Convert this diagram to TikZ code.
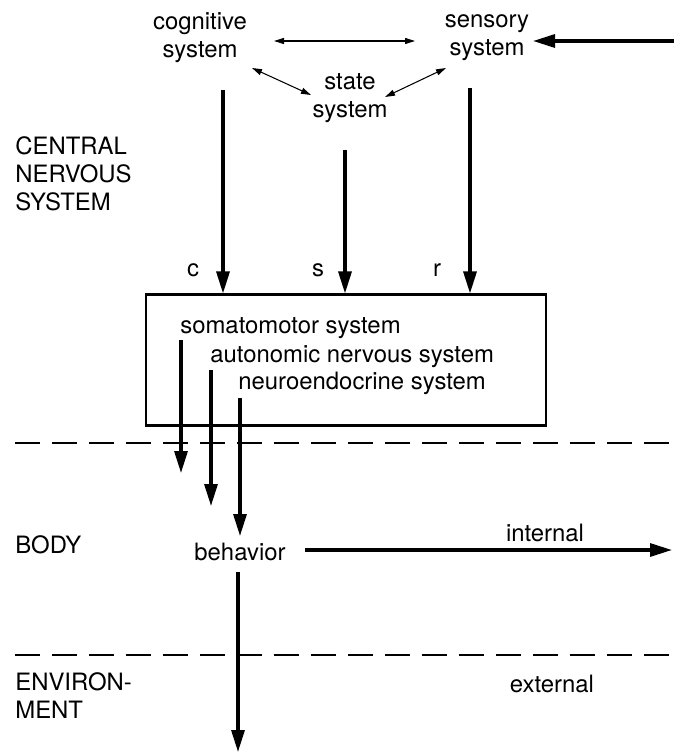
\documentclass[tikz,border=0pt]{standalone}
\usepackage{fontspec}
\setmainfont{TeX Gyre Heros}
\usetikzlibrary{arrows.meta}

\begin{document}
\begin{tikzpicture}[x=0.02cm, y=-0.02cm]
\tikzset{lbl/.style={inner sep=0pt, align=center, font=\fontsize{13.6}{16}\selectfont},
  leftlbl/.style={lbl, anchor=west, align=left},
  thin/.style={line width=0.6pt, {Triangle[length=2mm, width=1.2mm]}-{Triangle[length=2mm, width=1.2mm]}},
  thick/.style={line width=1.8pt, -{Triangle[length=4.4mm, width=2.6mm]}},
  zone/.style={line width=1.6pt, dash pattern=on 0.5cm off 0.24cm}}
\useasboundingbox (0,0) rectangle (674,753);
% the three central systems
\node[lbl] (cog) at (200,38) {cognitive\\system};
\node[lbl] (sens) at (487,38) {sensory\\system};
\node[lbl] (state) at (350,98) {state\\system};
\draw[thin] (274,41) -- (415,41);
\draw[thin] (252,68) -- (311,95);
\draw[thin] (385,97) -- (446,68);
\draw[thick] (674,41) -- (533,41);
% zone labels
\node[leftlbl] (cns) at (15,174) {CENTRAL\\NERVOUS\\SYSTEM};
\node[leftlbl] (body) at (15,545) {BODY};
\node[leftlbl] (env) at (15,696) {ENVIRON-\\MENT};
% output box
\node[draw, line width=1.2pt, minimum width=8cm, minimum height=2.62cm] (box) at (346,360) {};
\node[lbl] (c) at (193,270) {c};
\node[lbl] (s) at (318,270) {s};
\node[lbl] (r) at (437,270) {r};
\coordinate (cogout) at (223,90);
\coordinate (stateout) at (345,150);
\coordinate (sensout) at (470,88);
\draw[thick] (cogout) -- (cogout |- box.north);
\draw[thick] (stateout) -- (stateout |- box.north);
\draw[thick] (sensout) -- (sensout |- box.north);
\node[lbl, anchor=base west] (somato) at (180,333) {somatomotor system};
\node[lbl, anchor=base west] (auto) at (210,362) {autonomic nervous system};
\node[lbl, anchor=base west] (neuro) at (238,389) {neuroendocrine system};
\coordinate (somatoout) at (181,340);
\coordinate (autoout) at (211,370);
\coordinate (neuroout) at (240,398);
\draw[thick] (somatoout) -- (181,473);
\draw[thick] (autoout) -- (211,506);
\draw[thick] (neuroout) -- (240,536);
% zone borders
\draw[zone] (15,443) -- (674,443);
\draw[zone] (15,655) -- (674,655);
% behavior
\node[lbl] (beh) at (240,552) {behavior};
\coordinate (inner) at (672,550);
\coordinate (outer) at (238,752);
\draw[thick] (305,550) -- (inner);
\draw[thick] (238,572) -- (outer);
\node[lbl] (int) at (545,533) {internal};
\node[lbl] (ext) at (552,684) {external};
\end{tikzpicture}
\end{document}
